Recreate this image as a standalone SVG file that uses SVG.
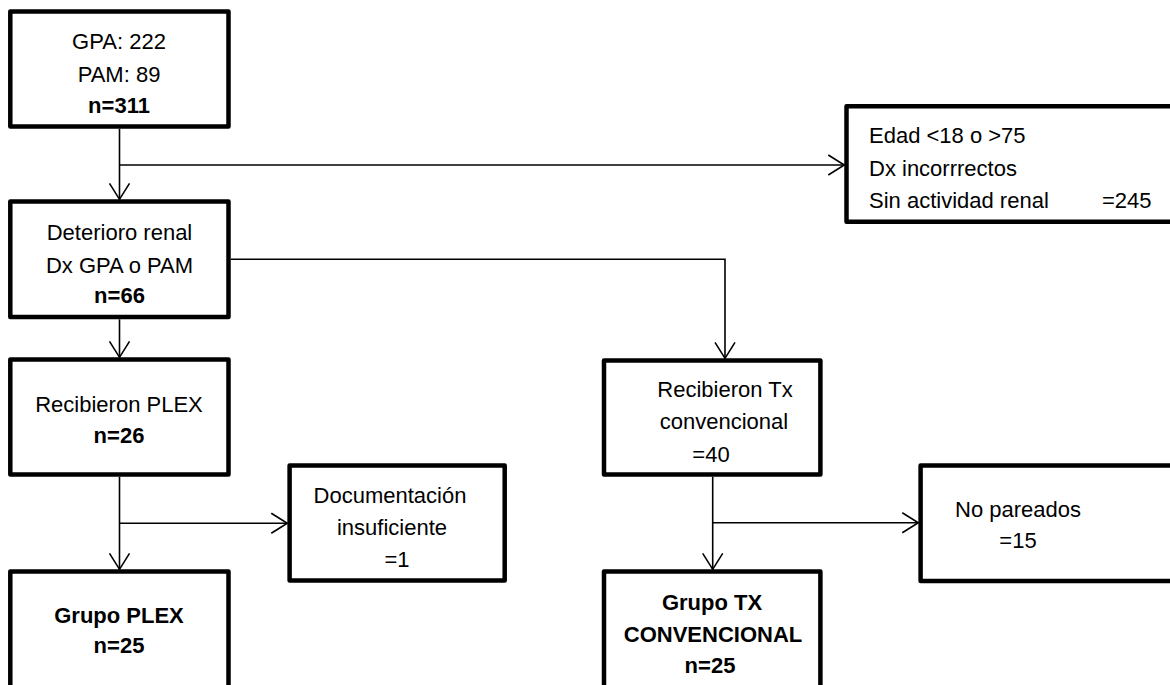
<svg xmlns="http://www.w3.org/2000/svg" width="1170" height="685" viewBox="0 0 1170 685">
<style>
.box{fill:#fff;stroke:#000;stroke-width:4.5;stroke-linejoin:round}
.t{font-family:"Liberation Sans",Arial,sans-serif;font-size:22px;fill:#000}
.c{text-anchor:middle}
.b{font-weight:bold}
.con{fill:none;stroke:#000;stroke-width:1.6}
</style>
<defs>
<marker id="arr" markerUnits="userSpaceOnUse" markerWidth="30" markerHeight="30" viewBox="-20 -15 24 30" refX="0" refY="0" orient="auto">
<path d="M-16,-10 L0,0 L-16,10" fill="none" stroke="#000" stroke-width="1.6"/>
</marker>
</defs>
<rect width="1170" height="685" fill="#fff"/>
<g id="connectors">
<path class="con" d="M119.5,128.7 V199.3" marker-end="url(#arr)"/>
<path class="con" d="M119.5,165 H844.3" marker-end="url(#arr)"/>
<path class="con" d="M119.5,319.3 V357.3" marker-end="url(#arr)"/>
<path class="con" d="M230.7,259.3 H725 V358.3" marker-end="url(#arr)"/>
<path class="con" d="M119.5,476.7 V569.3" marker-end="url(#arr)"/>
<path class="con" d="M119.5,523.3 H287.3" marker-end="url(#arr)"/>
<path class="con" d="M712.7,476.7 V569.3" marker-end="url(#arr)"/>
<path class="con" d="M712.7,522.7 H918.3" marker-end="url(#arr)"/>
</g>
<g id="n1">
<rect class="box" x="10.3" y="11.6" width="218.2" height="114.8"/>
<text class="t c" x="119" y="49">GPA: 222</text>
<text class="t c" x="119" y="82">PAM: 89</text>
<text class="t c b" x="119" y="113">n=311</text>
</g>
<g id="n_excl1">
<rect class="box" x="846.5" y="106.3" width="330" height="115.4"/>
<text class="t" x="869" y="143">Edad &lt;18 o &gt;75</text>
<text class="t" x="869" y="176">Dx incorrrectos</text>
<text class="t" x="869" y="208">Sin actividad renal</text>
<text class="t" x="1102" y="208">=245</text>
</g>
<g id="n2">
<rect class="box" x="10.3" y="201.6" width="218.2" height="115.4"/>
<text class="t c" x="119.5" y="240">Deterioro renal</text>
<text class="t c" x="119.5" y="272.7">Dx GPA o PAM</text>
<text class="t c b" x="119.5" y="303.3">n=66</text>
</g>
<g id="n3">
<rect class="box" x="10.3" y="359.6" width="218.2" height="114.8"/>
<text class="t c" x="119" y="411.7">Recibieron PLEX</text>
<text class="t c b" x="119" y="443.3">n=26</text>
</g>
<g id="n4">
<rect class="box" x="604" y="360.6" width="216.4" height="113.8"/>
<text class="t c" x="725" y="397.3">Recibieron Tx</text>
<text class="t c" x="724" y="429.3">convencional</text>
<text class="t c" x="711" y="461.7">=40</text>
</g>
<g id="n_doc">
<rect class="box" x="289.6" y="465.6" width="215.1" height="114.8"/>
<text class="t c" x="390" y="503.3">Documentación</text>
<text class="t c" x="392" y="535">insuficiente</text>
<text class="t c" x="397" y="567.3">=1</text>
</g>
<g id="n_nopar">
<rect class="box" x="920.6" y="465.6" width="260" height="115.4"/>
<text class="t c" x="1018" y="516.7">No pareados</text>
<text class="t c" x="1018" y="547.7">=15</text>
</g>
<g id="n_plex">
<rect class="box" x="10.3" y="571.6" width="218.2" height="130"/>
<text class="t c b" x="119" y="622.7">Grupo PLEX</text>
<text class="t c b" x="119" y="652.7">n=25</text>
</g>
<g id="n_tx">
<rect class="box" x="604" y="571.6" width="216.4" height="130"/>
<text class="t c b" x="712" y="610">Grupo TX</text>
<text class="t c b" x="713" y="641.7">CONVENCIONAL</text>
<text class="t c b" x="710" y="673.3">n=25</text>
</g>
</svg>
